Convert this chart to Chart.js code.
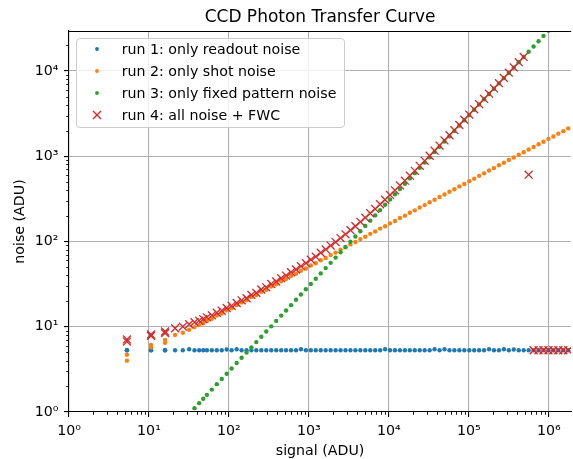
<!DOCTYPE html>
<html>
<head>
<meta charset="utf-8">
<script src="https://cdn.jsdelivr.net/npm/chart.js@4.4.1/dist/chart.umd.min.js"></script>
<style>
html,body{margin:0;padding:0;overflow:hidden;background:#fff;width:573px;height:459px;}
#wrap{position:relative;width:578px;height:459px;}
canvas{display:block;}
#legendBox{position:absolute;left:76px;top:38px;width:269px;height:90px;box-sizing:border-box;border:1px solid #cccccc;border-radius:4px;background:rgba(255,255,255,0.8);}
.lg{position:absolute;left:121.7px;height:20px;line-height:20px;font-family:"DejaVu Sans";font-size:14.2px;color:#000;white-space:nowrap;}
.mk{position:absolute;width:12px;height:12px;}
</style>
</head>
<body>
<div id="wrap">
<canvas id="c" width="578" height="459"></canvas>
<div id="legendBox"></div>
<svg class="mk" style="left:90.5px;top:43.4px" viewBox="0 0 12 12"><circle cx="6" cy="6" r="1.9" fill="#1f77b4"/></svg>
<div class="lg" style="top:39.4px">run 1: only readout noise</div>
<svg class="mk" style="left:90.5px;top:65.2px" viewBox="0 0 12 12"><circle cx="6" cy="6" r="1.9" fill="#ff7f0e"/></svg>
<div class="lg" style="top:61.2px">run 2: only shot noise</div>
<svg class="mk" style="left:90.5px;top:86.9px" viewBox="0 0 12 12"><circle cx="6" cy="6" r="1.9" fill="#2ca02c"/></svg>
<div class="lg" style="top:82.9px">run 3: only fixed pattern noise</div>
<svg class="mk" style="left:90.5px;top:108.7px" viewBox="0 0 12 12"><path d="M2 2 L10 10 M10 2 L2 10" stroke="#d62728" stroke-width="1.4" fill="none"/></svg>
<div class="lg" style="top:104.7px">run 4: all noise + FWC</div>
</div>
<script>
// ---- data ----
const signal = [5.3, 5.3, 10.6, 10.6, 15.9, 15.9, 21.2, 26.5, 31.8, 37.1, 42.4, 47.7,
  53, 61.1, 70.5, 81.3, 93.7, 108, 125, 144, 166, 191, 220, 254, 293, 338, 390, 450, 518, 598,
  690, 795, 917, 1057, 1219, 1406, 1622, 1870, 2157, 2487, 2868, 3307, 3814, 4398, 5072, 5848,
  6745, 7778, 8970, 10342, 11927, 13754, 15861, 18292, 21094, 24322, 28054, 32352, 37307, 43025,
  49613, 57215, 65978, 76085, 87740, 101158, 116681, 134552, 155132, 178897, 206301, 237903,
  274372, 316374, 364843, 420727, 485177, 559501, 645201, 744044, 858018, 989464, 1141027,
  1315786, 1517369, 1749846];

const readoutNoise = [
  5.3,5.3,5.3,5.3,5.3,5.3,5.3,5.3,5.45,5.3,
  5.3,5.3,5.3,5.3,5.3,5.3,5.4,5.3,5.45,5.3,
  5.3,5.3,5.3,5.3,5.3,5.3,5.3,5.3,5.3,5.3,
  5.3,5.45,5.3,5.3,5.3,5.3,5.3,5.3,5.3,5.3,
  5.3,5.3,5.3,5.3,5.3,5.3,5.3,5.3,5.45,5.3,
  5.3,5.3,5.3,5.3,5.3,5.3,5.3,5.3,5.45,5.3,
  5.45,5.3,5.3,5.3,5.3,5.3,5.3,5.3,5.3,5.45,
  5.3,5.3,5.45,5.3,5.4,5.3,5.3,5.3,5.3,5.3,
  5.3,5.3,5.3,5.3,5.3,5.3];

const shotNoise = [
  4.7,4.0,6.1,5.75,7.0,6.5,8.0,8.5,9.2,9.9,
  10.5,11.0,11.7,12.4,13.5,14.3,15.6,16.5,17.9,19.3,
  20.5,22.3,23.6,25.7,27.2,29.6,31.4,34.1,36.2,39.4,
  41.8,45.3,48.2,52.3,55.6,60.3,64.1,69.5,74.0,80.1,
  85.3,92.4,98.4,106.6,113.5,122.8,130.9,141.6,151.0,163.2,
  174.1,188.3,200.8,217.1,231.6,250.4,267.1,288.6,308.2,332.8,
  355.3,383.5,409.9,442.2,472.8,510.1,545.2,588.0,628.9,678.3,
  725.1,782.0,836.5,901.8,964.8,1040,1112,1199,1282,1383,
  1478,1595,1705,1839,1966,2120];

const fpnNoise = [
  0.159,0.159,0.318,0.318,0.477,0.477,0.636,0.795,0.954,1.11,
  1.27,1.43,1.59,1.83,2.12,2.44,2.81,3.24,3.75,4.32,
  4.98,5.73,6.6,7.62,8.79,10.1,11.7,13.5,15.5,17.9,
  20.7,23.9,27.5,31.7,36.6,42.2,48.7,56.1,64.7,74.6,
  86.0,99.2,114.4,131.9,152.2,175.4,202.4,233.3,269.1,310.3,
  357.8,412.6,475.8,548.8,632.8,729.7,841.6,970.6,1119,1291,
  1488,1717,1979,2283,2632,3035,3500,4037,4654,5367,
  6189,7137,8231,9491,10945,12622,14555,16785,19356,22321,
  25741,29684,34231,39474,45521,52495];

const allNoise = [
  7.1,6.7,8.1,7.8,8.8,8.4,9.6,10.05,10.7,11.3,
  11.8,12.3,12.9,13.6,14.6,15.4,16.6,17.6,19.0,20.4,
  21.6,23.6,25.0,27.3,29.0,31.7,33.9,37.1,39.8,43.6,
  46.9,51.3,55.6,61.2,66.4,73.7,80.6,89.4,98.4,109.6,
  121.3,135.6,151.0,169.8,190.0,214.4,241.1,273.3,308.3,351.5,
  397.8,454.3,516.5,590.7,673.5,771.5,883.1,1012.5,1161,1333,
  1530,1759,2021,2325,2674,3077,3543,4079,4697,5410,
  6232,7180,8274,9534,10988,12664,14598,608,5.3,5.3,
  5.3,5.3,5.3,5.3,5.3,5.3];

const seriesLabels = ['run 1: only readout noise', 'run 2: only shot noise',
  'run 3: only fixed pattern noise', 'run 4: all noise + FWC'];
const xTickValues = [1, 10, 100, 1e3, 1e4, 1e5, 1e6];
const yTickValues = [1, 10, 100, 1e3, 1e4];

// ---- chart ----
const SUP = {'0':'\u2070','1':'\u00b9','2':'\u00b2','3':'\u00b3','4':'\u2074','5':'\u2075','6':'\u2076','7':'\u2077','8':'\u2078','9':'\u2079','-':'\u207b'};
function powLabel(v){
  const e = Math.round(Math.log10(v));
  return '10' + String(e).split('').map(c => SUP[c]).join('');
}
function pts(ys){ return signal.map((x, i) => ({x: x, y: ys[i]})); }

const FONT = 'DejaVu Sans';
const dot = (c, order) => ({ data: null, backgroundColor: c, borderColor: c, pointRadius: 2.2,
  pointBorderWidth: 0, pointHoverRadius: 2.2, showLine: false, order: order });

const datasets = [
  Object.assign(dot('#1f77b4', 4), {label: seriesLabels[0], data: pts(readoutNoise)}),
  Object.assign(dot('#ff7f0e', 3), {label: seriesLabels[1], data: pts(shotNoise)}),
  Object.assign(dot('#2ca02c', 2), {label: seriesLabels[2], data: pts(fpnNoise)}),
  {label: seriesLabels[3], data: pts(allNoise), pointStyle: 'crossRot', pointRadius: 5.6,
   pointHoverRadius: 5.6, borderColor: '#d62728', backgroundColor: '#d62728',
   pointBorderWidth: 1.3, showLine: false, order: 1}
];

const axesExtras = {
  id: 'axesExtras',
  afterLayout(chart){
    const t = chart.titleBlock, a = chart.chartArea;
    if (t) { t.left = a.left; t.right = a.right; t.width = a.right - a.left; }
  },
  afterDraw(chart){
    const {ctx, chartArea: a, scales} = chart;
    const xs = scales.x, ys = scales.y;
    ctx.save();
    ctx.strokeStyle = '#000';
    ctx.lineWidth = 1.1;
    ctx.beginPath();
    ctx.moveTo(a.left, Math.round(a.top) + 0.5);
    ctx.lineTo(a.right, Math.round(a.top) + 0.5);
    ctx.stroke();
    ctx.lineWidth = 0.9;
    ctx.beginPath();
    for (let e = 0; e < 7; e++) {
      for (let m = 2; m < 10; m++) {
        const v = m * Math.pow(10, e);
        if (v > xs.max) break;
        const px = Math.round(xs.getPixelForValue(v)) + 0.5;
        ctx.moveTo(px, a.bottom);
        ctx.lineTo(px, a.bottom + 2.8);
      }
    }
    for (let e = 0; e < 5; e++) {
      for (let m = 2; m < 10; m++) {
        const v = m * Math.pow(10, e);
        if (v > ys.max) break;
        const py = Math.round(ys.getPixelForValue(v)) + 0.5;
        ctx.moveTo(a.left, py);
        ctx.lineTo(a.left - 2.8, py);
      }
    }
    ctx.stroke();
    ctx.restore();
  }
};

new Chart(document.getElementById('c'), {
  type: 'scatter',
  data: { datasets: datasets },
  options: {
    responsive: false,
    animation: false,
    events: [],
    devicePixelRatio: 1,
    layout: { padding: 0 },
    plugins: {
      legend: { display: false },
      tooltip: { enabled: false },
      title: { display: true, text: 'CCD Photon Transfer Curve', color: '#000',
        font: { family: FONT, size: 17, weight: 'normal' }, padding: { top: 7, bottom: 3.6 } }
    },
    scales: {
      x: {
        type: 'logarithmic', min: 1, max: 1.9e6, bounds: 'data',
        afterBuildTicks: s => { s.ticks = xTickValues.map(v => ({ value: v })); },
        afterFit: s => { s.height = 47; },
        grid: { color: '#b0b0b0', lineWidth: 1.1, tickLength: 5, tickColor: '#000', tickWidth: 1.1 },
        border: { display: true, color: '#000', width: 1.1 },
        ticks: { callback: v => powLabel(v), color: '#000', font: { family: FONT, size: 14.2 },
          padding: 6, maxRotation: 0, autoSkip: false },
        title: { display: true, text: 'signal (ADU)', color: '#000',
          font: { family: FONT, size: 14.2 }, padding: { top: 0, bottom: -1 } }
      },
      y: {
        type: 'logarithmic', min: 1, max: 2.94e4, bounds: 'data',
        afterBuildTicks: s => { s.ticks = yTickValues.map(v => ({ value: v })); },
        afterFit: s => { s.width = 69; },
        grid: { color: '#b0b0b0', lineWidth: 1.1, tickLength: 5, tickColor: '#000', tickWidth: 1.1 },
        border: { display: true, color: '#000', width: 1.1 },
        ticks: { callback: v => powLabel(v), color: '#000', font: { family: FONT, size: 14.2 },
          padding: 5.5, autoSkip: false },
        title: { display: true, text: 'noise (ADU)', color: '#000',
          font: { family: FONT, size: 14.2 }, padding: { top: 11.5, bottom: 0 } }
      }
    }
  },
  plugins: [axesExtras]
});
</script>
</body>
</html>
